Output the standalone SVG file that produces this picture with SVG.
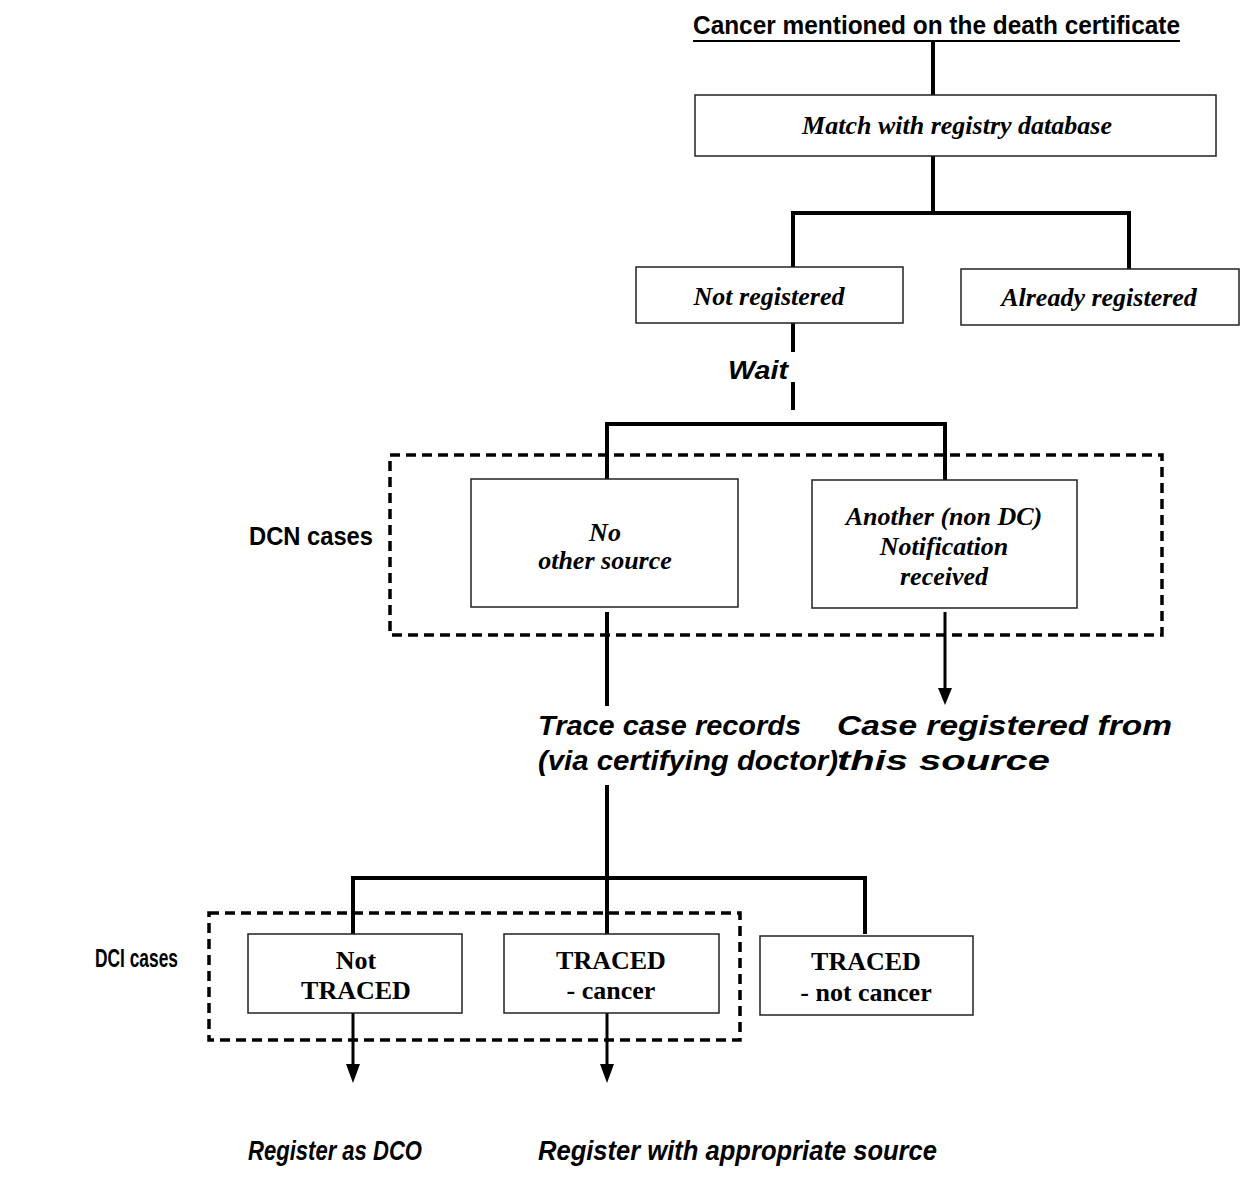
<svg xmlns="http://www.w3.org/2000/svg" width="1241" height="1189" viewBox="0 0 1241 1189">
<style>
.box{fill:#fff;stroke:#222;stroke-width:1.5}
.dash{fill:none;stroke:#000;stroke-width:3.5;stroke-dasharray:10 6}
.ln{stroke:#000;stroke-width:4;fill:none}
.ar{stroke:#000;stroke-width:3;fill:none}
.serif{font-family:"Liberation Serif","Times New Roman",serif;font-weight:bold;font-size:26px;text-anchor:middle;fill:#000}
.si{font-style:italic}
.sans{font-family:"Liberation Sans",Arial,sans-serif;font-weight:bold;font-size:25px;fill:#000}
.big{font-size:27px}
.it{font-style:italic}
</style>
<g id="connectors">
<line class="ln" x1="933" y1="42" x2="933" y2="95"/>
<line class="ln" x1="933" y1="156" x2="933" y2="213"/>
<polyline class="ln" points="793,268 793,213 1129,213 1129,270"/>
<line class="ln" x1="793" y1="323" x2="793" y2="352"/>
<line class="ln" x1="793" y1="382" x2="793" y2="410"/>
<polyline class="ln" points="607,480 607,424 945,424 945,480"/>
<line class="ln" x1="607" y1="612" x2="607" y2="706"/>
<line class="ar" x1="945" y1="612" x2="945" y2="690"/>
<path d="M938,688 L952,688 L945,705 Z" fill="#000"/>
<line class="ln" x1="607" y1="785" x2="607" y2="934"/>
<polyline class="ln" points="353,934 353,878 865,878 865,934"/>
<line class="ar" x1="353" y1="1013" x2="353" y2="1066"/>
<path d="M346,1064 L360,1064 L353,1083 Z" fill="#000"/>
<line class="ar" x1="607" y1="1013" x2="607" y2="1066"/>
<path d="M600,1064 L614,1064 L607,1083 Z" fill="#000"/>
</g>
<g id="title">
<text class="sans" x="693" y="34" textLength="487" lengthAdjust="spacingAndGlyphs">Cancer mentioned on the death certificate</text>
<line x1="693" y1="41" x2="1180" y2="41" stroke="#000" stroke-width="2"/>
</g>
<g id="match">
<rect class="box" x="695" y="95" width="521" height="61"/>
<text class="serif si" x="957" y="134">Match with registry database</text>
</g>
<g id="not-registered">
<rect class="box" x="636" y="267" width="267" height="56"/>
<text class="serif si" x="769" y="305">Not registered</text>
</g>
<g id="already-registered">
<rect class="box" x="961" y="269" width="278" height="56"/>
<text class="serif si" x="1099" y="306">Already registered</text>
</g>
<g id="wait">
<text class="sans it" x="728" y="379" textLength="60" lengthAdjust="spacingAndGlyphs">Wait</text>
</g>
<g id="dcn-group">
<rect class="dash" x="390" y="455" width="772" height="180"/>
<text class="sans" x="249" y="545" textLength="124" lengthAdjust="spacingAndGlyphs">DCN cases</text>
</g>
<g id="no-other-source">
<rect class="box" x="471" y="479" width="267" height="128"/>
<text class="serif si" x="605" y="541">No</text>
<text class="serif si" x="605" y="569">other source</text>
</g>
<g id="another-notification">
<rect class="box" x="812" y="480" width="265" height="128"/>
<text class="serif si" x="944" y="525">Another (non DC)</text>
<text class="serif si" x="944" y="555">Notification</text>
<text class="serif si" x="944" y="585">received</text>
</g>
<g id="trace">
<text class="sans big it" x="538" y="735" textLength="263" lengthAdjust="spacingAndGlyphs">Trace case records</text>
<text class="sans big it" x="538" y="770" textLength="300" lengthAdjust="spacingAndGlyphs">(via certifying doctor)</text>
</g>
<g id="case-registered">
<text class="sans big it" x="837" y="735" textLength="335" lengthAdjust="spacingAndGlyphs">Case registered from</text>
<text class="sans big it" x="837" y="770" textLength="213" lengthAdjust="spacingAndGlyphs">this source</text>
</g>
<g id="dci-group">
<rect class="dash" x="209" y="913" width="531" height="127"/>
<text class="sans" x="95" y="967" textLength="83" lengthAdjust="spacingAndGlyphs">DCI cases</text>
</g>
<g id="not-traced">
<rect class="box" x="248" y="934" width="214" height="79"/>
<text class="serif" x="356" y="969">Not</text>
<text class="serif" x="356" y="999">TRACED</text>
</g>
<g id="traced-cancer">
<rect class="box" x="504" y="934" width="215" height="79"/>
<text class="serif" x="611" y="969">TRACED</text>
<text class="serif" x="611" y="999">- cancer</text>
</g>
<g id="traced-not-cancer">
<rect class="box" x="760" y="936" width="213" height="79"/>
<text class="serif" x="866" y="970">TRACED</text>
<text class="serif" x="866" y="1001">- not cancer</text>
</g>
<g id="register-dco">
<text class="sans big it" x="248" y="1160" textLength="174" lengthAdjust="spacingAndGlyphs">Register as DCO</text>
</g>
<g id="register-source">
<text class="sans big it" x="538" y="1160" textLength="399" lengthAdjust="spacingAndGlyphs">Register with appropriate source</text>
</g>
</svg>
